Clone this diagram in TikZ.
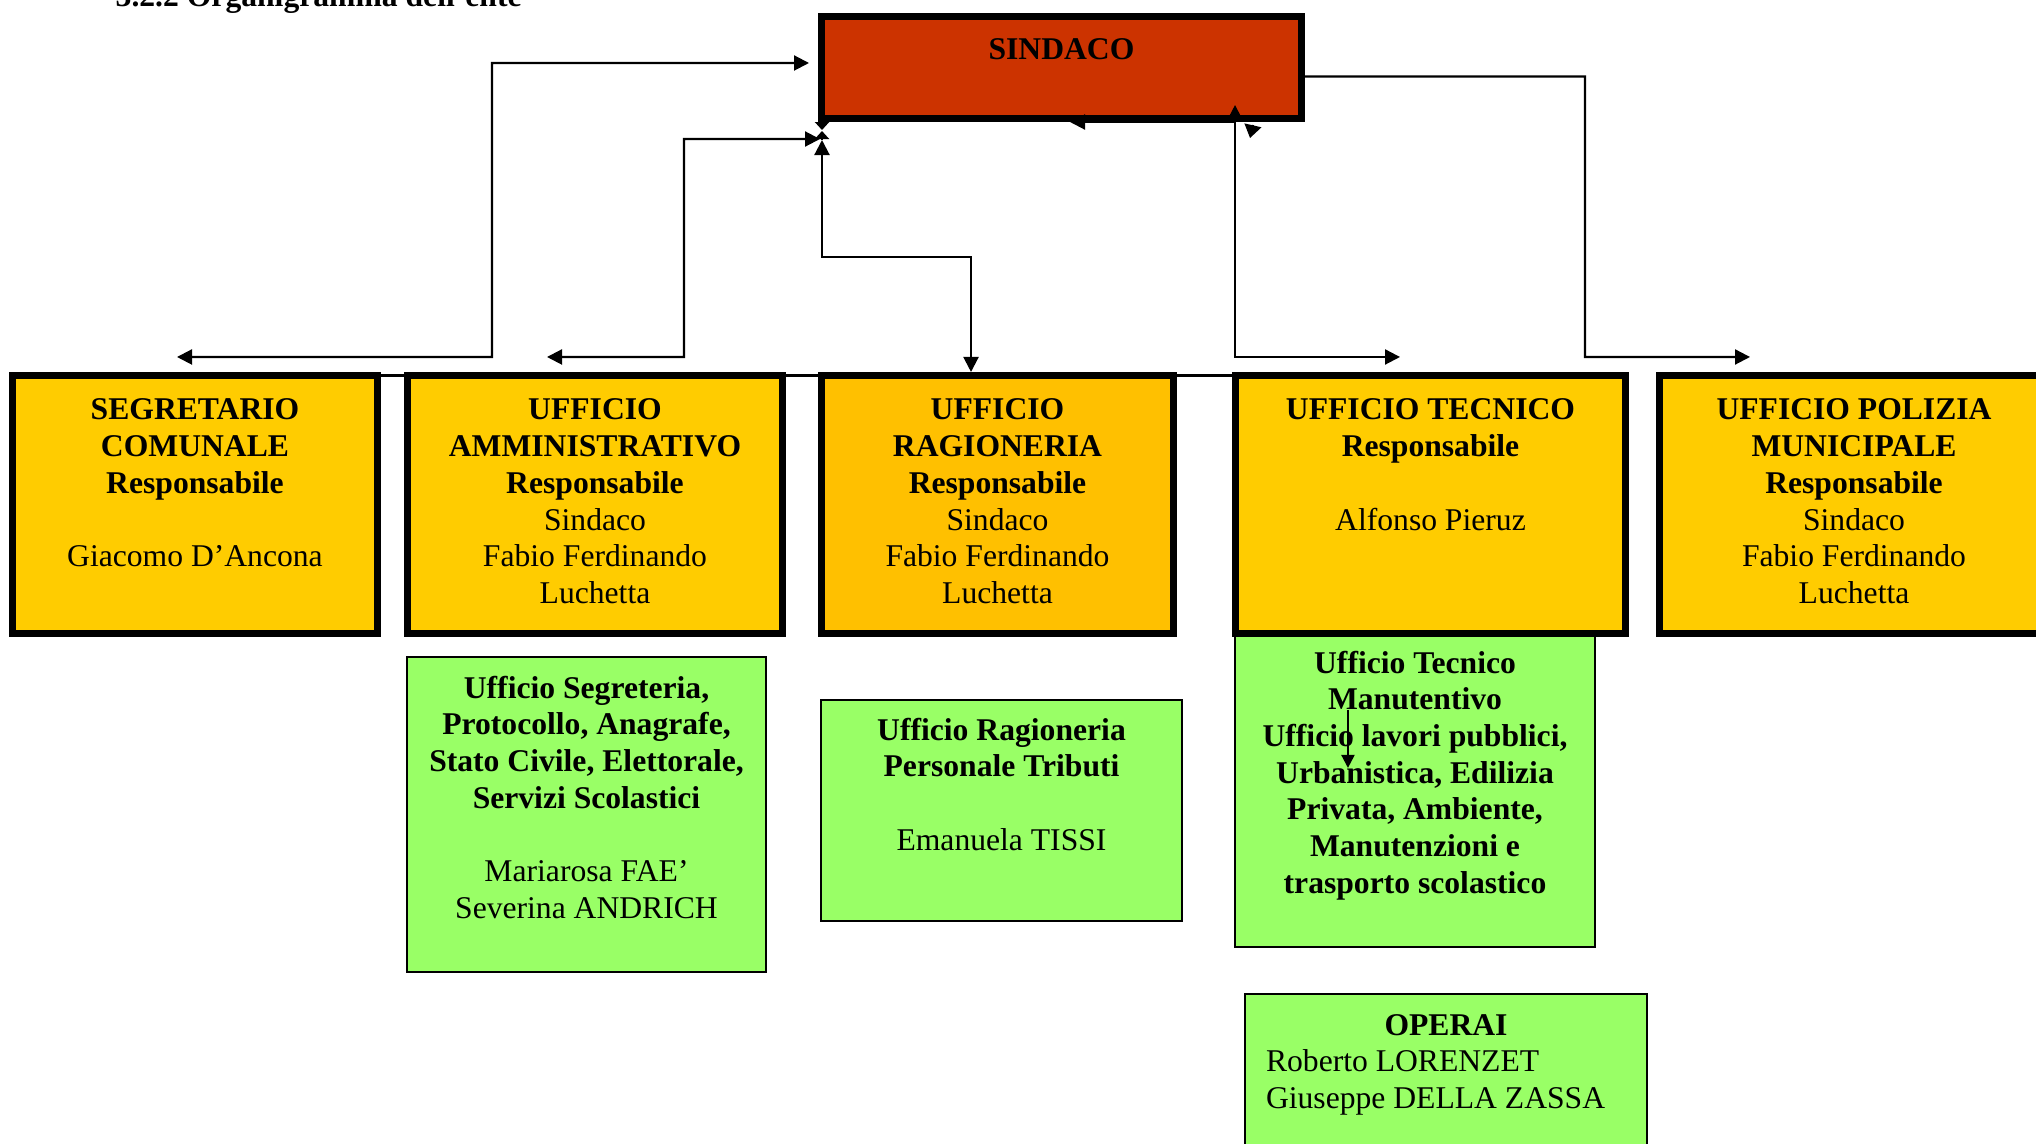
\documentclass[tikz,border=0pt]{standalone}
\usepackage{fontspec}
\setmainfont{Liberation Serif}
\usepackage{tikz}
\usetikzlibrary{arrows.meta}

\definecolor{rosso}{HTML}{CC3300}
\definecolor{giallo}{HTML}{FFCC00}
\definecolor{arancio}{HTML}{FFC000}
\definecolor{verde}{HTML}{99FF66}

\tikzset{
    cella/.style n args={3}{inner sep=0pt, font=\fontsize{9pt}{10.45pt}\selectfont,
        execute at begin node={\begin{minipage}[c][#2][t]{#1}\centering\rule{0pt}{#3}},
        execute at end node={\end{minipage}}},
    capo/.style={draw, line width=2pt, fill=rosso, cella={4.80cm}{1.02cm}{0.435cm}},
    ufficio/.style={draw, line width=2pt, fill=giallo, cella={#1}{2.58cm}{0.445cm}},
    settore/.style n args={3}{draw, line width=0.6pt, fill=verde, cella={#1}{#2}{#3}},
    freccia/.style={line width=0.6pt},
    linea/.style={line width=0.6pt},
}

\begin{document}
\begin{tikzpicture}[>={Triangle[length=0.15cm, width=0.15cm]}]
    \useasboundingbox (0, 0) rectangle (20.36, -11.44);

    \node[font=\fontsize{9pt}{10.45pt}\selectfont\bfseries, anchor=base west, inner sep=0pt] at (1.15, -0.07) (titolo) {3.2.2 Organigramma dell’ente};

    \node[settore={3.59cm}{3.15cm}{0.41cm}] at (5.865, -8.145) (segreteria) {{\bfseries Ufficio Segreteria,\\Protocollo, Anagrafe,\\Stato Civile, Elettorale,\\Servizi Scolastici}\\[10.45pt]Mariarosa FAE’\\Severina ANDRICH};
    \node[settore={3.61cm}{2.21cm}{0.40cm}] at (10.015, -8.105) (contabilita) {{\bfseries Ufficio Ragioneria\\Personale Tributi}\\[10.45pt]Emanuela TISSI};
    \node[settore={3.60cm}{3.13cm}{0.39cm}] at (14.15, -7.905) (manutenzione) {\bfseries Ufficio Tecnico\\Manutentivo\\Ufficio lavori pubblici,\\Urbanistica, Edilizia\\Privata, Ambiente,\\Manutenzioni e\\trasporto scolastico};
    \node[settore={4.02cm}{2.05cm}{0.41cm}] at (14.46, -10.965) (operai) {\textbf{OPERAI}\\\makebox[3.60cm][l]{Roberto LORENZET}\\\makebox[3.60cm][l]{Giuseppe DELLA ZASSA}};

    \node[ufficio={3.65cm}] at (1.95, -5.045) (segretario) {{\bfseries SEGRETARIO\\COMUNALE\\Responsabile}\\[10.45pt]Giacomo D’Ancona};
    \node[ufficio={3.75cm}] at (5.95, -5.045) (amministrativo) {{\bfseries UFFICIO\\AMMINISTRATIVO\\Responsabile}\\Sindaco\\Fabio Ferdinando\\Luchetta};
    \node[ufficio={3.52cm}, fill=arancio] at (9.975, -5.045) (ragioneria) {{\bfseries UFFICIO\\RAGIONERIA\\Responsabile}\\Sindaco\\Fabio Ferdinando\\Luchetta};
    \node[ufficio={3.90cm}] at (14.305, -5.045) (tecnico) {{\bfseries UFFICIO TECNICO\\Responsabile}\\[10.45pt]Alfonso Pieruz};
    \node[ufficio={3.89cm}] at (18.54, -5.045) (polizia) {{\bfseries UFFICIO POLIZIA\\MUNICIPALE\\Responsabile}\\Sindaco\\Fabio Ferdinando\\Luchetta};

    \node[capo] at (10.615, -0.675) (sindaco) {\bfseries SINDACO};

    \draw[linea] ([yshift=-0.035cm]segretario.north east) -- ([yshift=-0.035cm]tecnico.north west);

    \draw[freccia, <->] ([xshift=-0.18cm, yshift=0.15cm]segretario.north) -| (4.92, -0.63) -- ([xshift=-0.09cm, yshift=0.045cm]sindaco.west);
    \draw[freccia, <->] ([xshift=-0.48cm, yshift=0.15cm]amministrativo.north) -| (6.84, -1.39) -- ([xshift=0.02cm, yshift=-0.17cm]sindaco.south west);
    \draw[freccia, <->] ([xshift=0.04cm, yshift=-0.18cm]sindaco.south west) |- (9.71, -2.57) -- ([xshift=-0.265cm]ragioneria.north);
    \draw[freccia, <->] ([xshift=1.735cm, yshift=0.17cm]sindaco.south) |- ([xshift=-0.305cm, yshift=0.15cm]tecnico.north);
    \draw[freccia, ->] ([yshift=-0.09cm]sindaco.east) -| (15.85, -3.57) -- ([xshift=-1.04cm, yshift=0.15cm]polizia.north);

    \draw[freccia, ->] ([xshift=1.735cm]sindaco.south) -- ([xshift=0.085cm]sindaco.south);
    \draw[freccia, -{Triangle[length=0.08cm, width=0.14cm]}] ([xshift=0.04cm]sindaco.south west) -- ++(0, -0.08);
    \draw[freccia, -{Triangle[length=0.08cm, width=0.14cm]}] ([xshift=0.04cm, yshift=-0.17cm]sindaco.south west) -- ++(0, 0.08);
    \draw[freccia, -{Triangle[length=0.13cm, width=0.17cm]}] ([xshift=1.915cm, yshift=-0.03cm]sindaco.south) -- ([xshift=1.885cm, yshift=-0.16cm]sindaco.south);
    \draw[freccia, -{Triangle[length=0.13cm, width=0.13cm]}] ([xshift=1.14cm, yshift=-0.77cm]manutenzione.north west) -- ([xshift=1.14cm, yshift=-1.35cm]manutenzione.north west);
\end{tikzpicture}
\end{document}
